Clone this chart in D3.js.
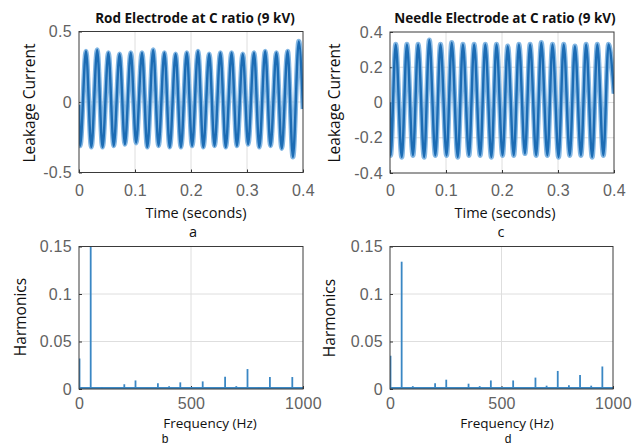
<!DOCTYPE html>
<html>
<head>
<meta charset="utf-8">
<script src="https://cdn.jsdelivr.net/npm/d3@7"></script>
<style>
    body { margin: 0; background: #fff; }
    .tick text { font-family: "Liberation Sans", Arial, sans-serif; font-size: 16px; fill: #626262; letter-spacing: 0.3px; }
    .tick line { stroke: #333; }
    .grid line { stroke: #dedede; stroke-width: 1; }
    .frame { fill: none; stroke: #3a3a3a; stroke-width: 1; }
    .lbl { font-family: "Open Sans", sans-serif; fill: #111; }
    .sub { font-family: "Liberation Sans", Arial, sans-serif; fill: #111; }
</style>
</head>
<body>
<svg id="fig" width="639" height="446"></svg>
<script>
// ---- leakage current, one peak and one trough per 50 Hz cycle
const period = 0.02
const rodPeaks = [0.36, 0.37, 0.35, 0.34, 0.35, 0.35, 0.37, 0.35, 0.34, 0.35,
                  0.36, 0.34, 0.35, 0.35, 0.34, 0.35, 0.36, 0.35, 0.36, 0.43]
const rodTroughs = [-0.31, -0.32, -0.32, -0.31, -0.30, -0.29, -0.32, -0.31, -0.32, -0.32,
                    -0.31, -0.32, -0.31, -0.32, -0.31, -0.30, -0.32, -0.31, -0.33, -0.39]
const rodEnds = [-0.02, -0.05]
const needlePeaks = [0.33, 0.33, 0.33, 0.355, 0.33, 0.34, 0.33, 0.33, 0.33, 0.33,
                     0.32, 0.33, 0.33, 0.34, 0.33, 0.33, 0.32, 0.33, 0.33, 0.33]
const needleTroughs = [-0.30, -0.31, -0.30, -0.31, -0.30, -0.30, -0.31, -0.30, -0.30, -0.31,
                       -0.30, -0.30, -0.29, -0.30, -0.30, -0.31, -0.30, -0.30, -0.31, -0.30]
const needleEnds = [0.0, 0.05]

// ---- harmonic spectrum
const freqs = [0, 50, 100, 150, 200, 250, 300, 350, 400, 450, 500,
               550, 600, 650, 700, 750, 800, 850, 900, 950, 1000]
const rodHarm = [0.032, 0.152, 0.002, 0.001, 0.005, 0.009, 0.001, 0.006, 0.003, 0.007, 0.002,
                 0.008, 0.001, 0.013, 0.003, 0.021, 0.002, 0.0126, 0.001, 0.0126, 0.001]
const needleHarm = [0.035, 0.134, 0.003, 0.001, 0.006, 0.0098, 0.001, 0.0056, 0.003, 0.009, 0.001,
                    0.009, 0.001, 0.012, 0.0035, 0.019, 0.004, 0.0147, 0.0035, 0.0237, 0.001]

// tick labels
const timeTicks = [0, 0.1, 0.2, 0.3, 0.4]
const rodTicks = [-0.5, 0, 0.5]
const needleTicks = [-0.4, -0.2, 0, 0.2, 0.4]
const freqTicks = [0, 500, 1000]
const harmTicks = [0, 0.05, 0.1, 0.15]

let svg = d3.select("#fig")
let blue = "#1c6cb4"

let buildWave = (peaks, troughs, ends, troughAt, peakAt) => {
    let pts = [{ t: 0, v: ends[0] }]
    peaks.forEach((p, k) => {
        pts.push({ t: troughAt + k * period, v: troughs[k] })
        pts.push({ t: peakAt + k * period, v: p })
    })
    pts.push({ t: 0.4, v: ends[1] })
    return pts
}

let panel = (box, xDomain, yDomain, xTicks, yTicks, id, pad) => {
    let x = d3.scaleLinear().domain(xDomain).range([box.l, box.r])
    let y = d3.scaleLinear().domain(yDomain).range([box.b, box.t])
    let g = svg.append("g")

    // grid
    let grid = g.append("g").attr("class", "grid")
    grid.selectAll(".gx").data(xTicks.slice(1, -1)).join("line")
        .attr("x1", d => x(d)).attr("x2", d => x(d))
        .attr("y1", box.t).attr("y2", box.b)
    grid.selectAll(".gy").data(yTicks.slice(1, -1)).join("line")
        .attr("y1", d => y(d)).attr("y2", d => y(d))
        .attr("x1", box.l).attr("x2", box.r)

    svg.append("clipPath").attr("id", id)
        .append("rect")
        .attr("x", box.l).attr("y", box.t)
        .attr("width", box.r - box.l).attr("height", box.b - box.t)

    let fmt = d => String(d)
    // x axis
    g.append("g")
        .attr("transform", "translate(0," + box.b + ")")
        .call(d3.axisBottom(x).tickValues(xTicks).tickFormat(fmt).tickSizeInner(-3).tickSizeOuter(0).tickPadding(pad))
        .call(a => a.select(".domain").remove())
    // y axis
    g.append("g")
        .attr("transform", "translate(" + box.l + ",0)")
        .call(d3.axisLeft(y).tickValues(yTicks).tickFormat(fmt).tickSizeInner(-3).tickSizeOuter(0).tickPadding(7))
        .call(a => a.select(".domain").remove())

    let plot = g.append("g").attr("clip-path", "url(#" + id + ")")
    return { x, y, g, plot, box }
}

let frame = p => {
    p.g.append("rect").attr("class", "frame")
        .attr("x", p.box.l).attr("y", p.box.t)
        .attr("width", p.box.r - p.box.l).attr("height", p.box.b - p.box.t)
}

let drawWave = (p, data) => {
    let line = d3.line().x(d => p.x(d.t)).y(d => p.y(d.v)).curve(d3.curveMonotoneX)
    p.plot.append("path").datum(data)
        .attr("d", line).attr("fill", "none")
        .attr("stroke", "#6eaade").attr("stroke-width", 5).attr("stroke-opacity", 0.85)
    p.plot.append("path").datum(data)
        .attr("d", line).attr("fill", "none")
        .attr("stroke", blue).attr("stroke-width", 2.4)
    frame(p)
}

let drawSpectrum = (p, vals) => {
    let data = freqs.map((f, i) => ({ f: f, v: vals[i] }))
    p.plot.append("line")
        .attr("x1", p.x(0)).attr("x2", p.x(1000))
        .attr("y1", p.y(0) - 1).attr("y2", p.y(0) - 1)
        .attr("stroke", "#3d8ac6").attr("stroke-width", 2)
    p.plot.selectAll(".stem").data(data).join("line")
        .attr("x1", d => p.x(d.f) + 0.5).attr("x2", d => p.x(d.f) + 0.5)
        .attr("y1", p.y(0)).attr("y2", d => p.y(d.v))
        .attr("stroke", "#3a87c4").attr("stroke-width", 1.8)
    frame(p)
}

let label = (x, y, txt, size, opts = {}) => {
    let t = svg.append("text").attr("class", opts.cls || "lbl")
        .attr("x", x).attr("y", y)
        .attr("text-anchor", "middle")
        .style("font-size", size + "px")
        .text(txt)
    if (opts.bold) t.style("font-weight", "bold")
    if (opts.rot) t.attr("transform", "rotate(-90," + x + "," + y + ")")
    return t
}

// a: rod electrode waveform
let pa = panel({ l: 79, r: 303, t: 31.5, b: 172.5 }, [0, 0.4], [-0.5, 0.5], timeTicks, rodTicks, "ca", 12)
drawWave(pa, buildWave(rodPeaks, rodTroughs, rodEnds, 0.002, 0.0125))

// c: needle electrode waveform
let pc = panel({ l: 390, r: 614, t: 32, b: 173 }, [0, 0.4], [-0.4, 0.4], timeTicks, needleTicks, "cc", 12)
drawWave(pc, buildWave(needlePeaks, needleTroughs, needleEnds, 0.001, 0.0102))

// b: rod spectrum
let pb = panel({ l: 79, r: 303, t: 246.5, b: 389 }, [0, 1000], [0, 0.15], freqTicks, harmTicks, "cb", 9)
drawSpectrum(pb, rodHarm)

// d: needle spectrum
let pd = panel({ l: 390, r: 613, t: 246.5, b: 389 }, [0, 1000], [0, 0.15], freqTicks, harmTicks, "cd", 9)
drawSpectrum(pd, needleHarm)

// titles and labels
label(195, 23, "Rod Electrode at C ratio (9 kV)", 13.5, { bold: true })
label(505, 23, "Needle Electrode at C ratio (9 kV)", 13.5, { bold: true })
label(35, 103, "Leakage Current", 15.5, { rot: true })
label(340, 103, "Leakage Current", 15.5, { rot: true })
label(196, 218, "Time (seconds)", 14.5)
label(505, 218, "Time (seconds)", 14.5)
label(193, 237, "a", 14.5)
label(501, 237, "c", 14.5)
label(26, 317, "Harmonics", 15.5, { rot: true })
label(335, 318, "Harmonics", 15.5, { rot: true })
label(210, 427.5, "Frequency (Hz)", 13.5)
label(507, 427.5, "Frequency (Hz)", 13.5)
label(165, 443, "b", 12, { cls: "sub" })
label(508, 443, "d", 12, { cls: "sub" })
</script>
</body>
</html>
